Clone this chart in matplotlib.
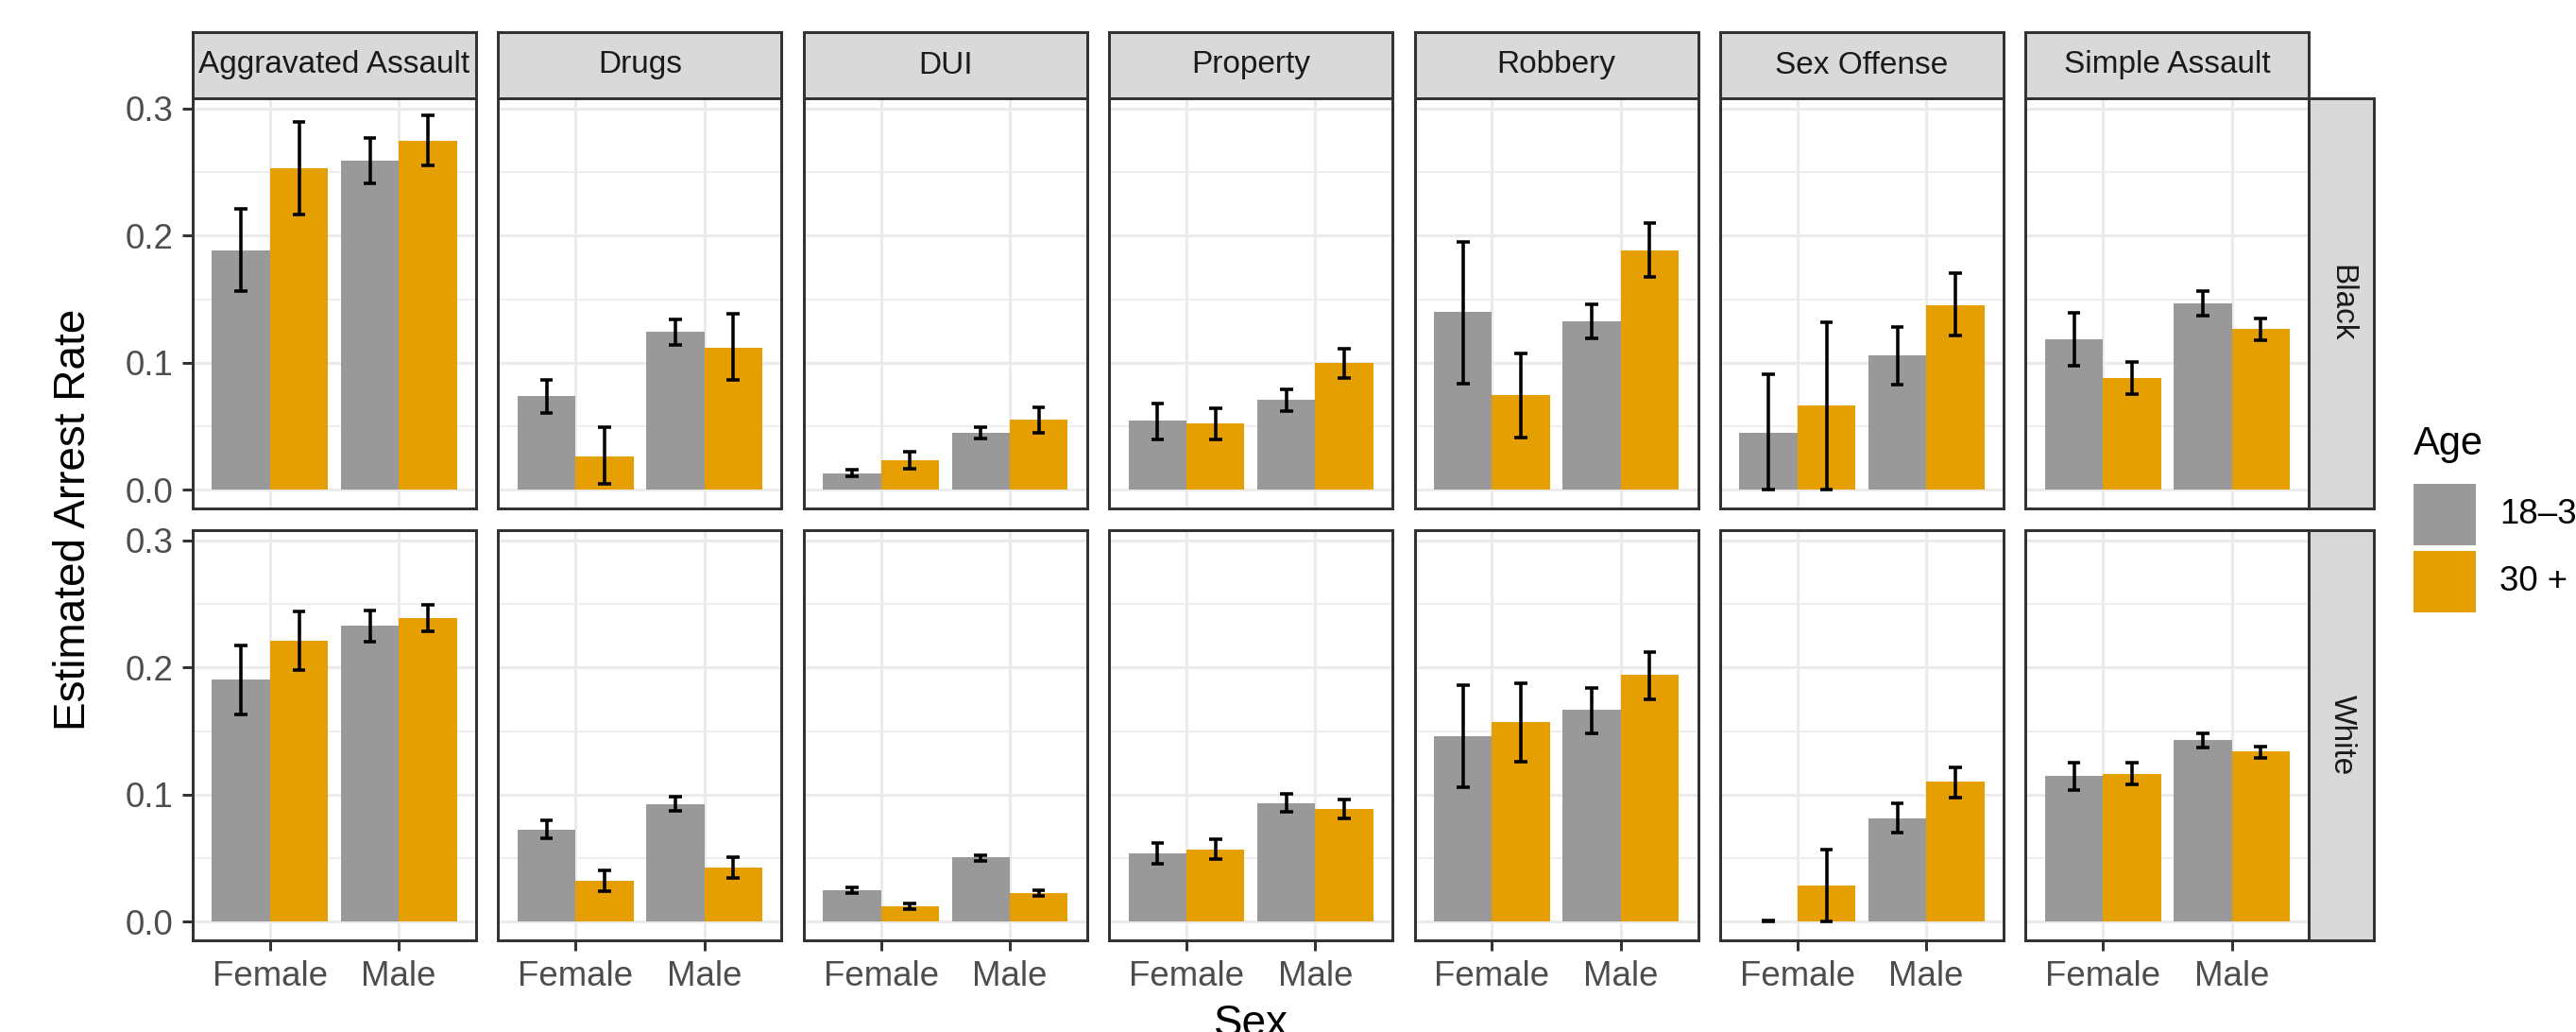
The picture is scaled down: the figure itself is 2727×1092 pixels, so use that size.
import matplotlib
matplotlib.use("Agg")
import matplotlib.pyplot as plt
from matplotlib.patches import Rectangle
from matplotlib.ticker import FixedLocator
import numpy as np

plt.rcParams['font.family'] = ['Liberation Sans', 'DejaVu Sans']

# ---------------- data ----------------
crimes = ["Aggravated Assault", "Drugs", "DUI", "Property", "Robbery",
          "Sex Offense", "Simple Assault"]
races = ["Black", "White"]
sexes = ["Female", "Male"]
ages = ["18–30", "30 +"]
y_ticks = [0.0, 0.1, 0.2, 0.3]
y_tick_labels = ["0.0", "0.1", "0.2", "0.3"]

# values ordered crime by crime, (Female, Male) within each crime
black_young_rate = [0.188, 0.259, 0.0736, 0.1241, 0.0133, 0.0452, 0.0545, 0.0707,
                    0.140, 0.1326, 0.0452, 0.106, 0.1185, 0.1467]
black_young_lo = [0.1565, 0.241, 0.0609, 0.114, 0.0104, 0.0404, 0.0399, 0.0622,
                  0.0834, 0.1193, 0.0, 0.0829, 0.0975, 0.1374]
black_young_hi = [0.2214, 0.2766, 0.0864, 0.1339, 0.016, 0.0497, 0.0683, 0.0795,
                  0.1953, 0.1459, 0.0911, 0.1281, 0.139, 0.1563]

black_30_rate = [0.253, 0.2748, 0.0266, 0.1121, 0.0231, 0.055, 0.0521, 0.0997,
                 0.0744, 0.1884, 0.0664, 0.1456, 0.088, 0.1265]
black_30_lo = [0.2166, 0.2554, 0.005, 0.0864, 0.0165, 0.0449, 0.0399, 0.0882,
               0.0412, 0.1672, 0.0, 0.1212, 0.0757, 0.1175]
black_30_hi = [0.2894, 0.2947, 0.0497, 0.1385, 0.0303, 0.0648, 0.0646, 0.1113,
               0.1076, 0.2097, 0.1321, 0.1703, 0.1007, 0.1347]

white_young_rate = [0.1905, 0.2326, 0.0728, 0.0927, 0.0252, 0.0506, 0.0542, 0.0935,
                    0.1457, 0.1666, 0.0003, 0.0817, 0.1145, 0.1428]
white_young_lo = [0.1632, 0.2201, 0.0655, 0.0875, 0.023, 0.0477, 0.0458, 0.0867,
                  0.1061, 0.1485, 0.0, 0.070, 0.104, 0.137]
white_young_hi = [0.2174, 0.245, 0.0799, 0.0982, 0.0272, 0.0524, 0.0624, 0.1006,
                  0.186, 0.1839, 0.0008, 0.093, 0.125, 0.1485]

white_30_rate = [0.2209, 0.2387, 0.0325, 0.043, 0.0126, 0.0228, 0.0571, 0.0891,
                 0.1569, 0.1941, 0.0288, 0.110, 0.1166, 0.1339]
white_30_lo = [0.1983, 0.2282, 0.0241, 0.0346, 0.0102, 0.0202, 0.0493, 0.0815,
               0.1263, 0.175, 0.0005, 0.0977, 0.1082, 0.1292]
white_30_hi = [0.2442, 0.2494, 0.0406, 0.0511, 0.0144, 0.0249, 0.065, 0.0964,
               0.1878, 0.2125, 0.0569, 0.1218, 0.125, 0.1381]

data = {
    ("Black", ages[0]): (black_young_rate, black_young_lo, black_young_hi),
    ("Black", ages[1]): (black_30_rate, black_30_lo, black_30_hi),
    ("White", ages[0]): (white_young_rate, white_young_lo, white_young_hi),
    ("White", ages[1]): (white_30_rate, white_30_lo, white_30_hi),
}

# ---------------- style ----------------
age_colors = {ages[0]: "#999999", ages[1]: "#E69F00"}
GRID = "#EBEBEB"
BORDER = "#333333"
STRIP_FILL = "#D9D9D9"
TICK_TXT = "#4D4D4D"
STRIP_TXT = "#1A1A1A"
LW = 0.72
ERR_LW = 0.85

W, H, DPI = 2727, 1092, 300
fig = plt.figure(figsize=(W / DPI, H / DPI), dpi=DPI)
fig.patch.set_facecolor("white")


def fx(px):
    return px / W


def fy(py):
    return 1 - py / H


panel_w = 300
col_left = [204 + c * 323.4 for c in range(7)]
panel_h = 434
row_top = [104, 561]
strip_top = 34
strip_right_w = 69

dodge = 0.225
bar_w = 0.45
cap = 0.05

for r, race in enumerate(races):
    for c, crime in enumerate(crimes):
        left = col_left[c]
        top = row_top[r]
        ax = fig.add_axes([fx(left), fy(top + panel_h), panel_w / W, panel_h / H])
        ax.set_xlim(0.4, 2.6)
        ax.set_ylim(-0.0145, 0.308)
        ax.set_facecolor("white")
        # grid
        ax.yaxis.set_major_locator(FixedLocator(y_ticks))
        ax.yaxis.set_minor_locator(FixedLocator([0.05, 0.15, 0.25]))
        ax.xaxis.set_major_locator(FixedLocator([1, 2]))
        ax.grid(which="major", color=GRID, linewidth=0.75, zorder=0)
        ax.grid(which="minor", axis="y", color=GRID, linewidth=0.4, zorder=0)
        ax.set_axisbelow(True)
        for s in ax.spines.values():
            s.set_color(BORDER)
            s.set_linewidth(LW)
            s.set_zorder(5)

        xpos = np.array([1.0, 2.0])
        for a_i, age in enumerate(ages):
            rate, lo, hi = data[(race, age)]
            vals = np.array(rate[2 * c:2 * c + 2])
            los = np.array(lo[2 * c:2 * c + 2])
            his = np.array(hi[2 * c:2 * c + 2])
            xs = xpos + (-dodge if a_i == 0 else dodge)
            ax.bar(xs, vals, width=bar_w, color=age_colors[age], zorder=2,
                   linewidth=0)
            ax.vlines(xs, los, his, color="black", linewidth=ERR_LW, zorder=3)
            ax.hlines(los, xs - cap, xs + cap, color="black", linewidth=ERR_LW, zorder=3)
            ax.hlines(his, xs - cap, xs + cap, color="black", linewidth=ERR_LW, zorder=3)

        ax.tick_params(which="minor", length=0)
        ax.tick_params(which="major", color=BORDER, width=LW, length=2.75,
                       pad=2.2, labelsize=8.8, labelcolor=TICK_TXT)
        if c == 0:
            ax.set_yticklabels(y_tick_labels)
        else:
            ax.tick_params(axis="y", which="major", length=0, labelleft=False)
        if r == len(races) - 1:
            ax.set_xticklabels(sexes)
        else:
            ax.tick_params(axis="x", which="major", length=0, labelbottom=False)

        # top strips
        if r == 0:
            fig.add_artist(Rectangle((fx(left), fy(top)), panel_w / W,
                                     (top - strip_top) / H,
                                     transform=fig.transFigure,
                                     facecolor=STRIP_FILL, edgecolor=BORDER,
                                     linewidth=LW, zorder=1))
            fig.text(fx(left + panel_w / 2), fy((top + strip_top) / 2), crime,
                     ha="center", va="center", fontsize=8.0, color=STRIP_TXT)

    # right strips
    right = col_left[-1] + panel_w
    top = row_top[r]
    fig.add_artist(Rectangle((fx(right), fy(top + panel_h)), strip_right_w / W,
                             panel_h / H, transform=fig.transFigure,
                             facecolor=STRIP_FILL, edgecolor=BORDER,
                             linewidth=LW, zorder=1))
    fig.text(fx(right + strip_right_w / 2), fy(top + panel_h / 2), race,
             ha="center", va="center", rotation=-90, fontsize=8.0, color=STRIP_TXT)

# axis titles
fig.text(fx(col_left[0] + (col_left[-1] + panel_w - col_left[0]) / 2), fy(1062),
         "Sex", ha="center", va="top", fontsize=11, color="black")
fig.text(fx(78), fy(row_top[0] + (row_top[1] + panel_h - row_top[0]) / 2),
         "Estimated Arrest Rate", ha="center", va="center", rotation=90,
         fontsize=11, color="black")

# legend
fig.text(fx(2555), fy(481), "Age", ha="left", va="baseline", fontsize=10, color="black")
key_tops = [512, 583]
for age, kt in zip(ages, key_tops):
    fig.add_artist(Rectangle((fx(2555), fy(kt + 65)), 66 / W, 65 / H,
                             transform=fig.transFigure, facecolor=age_colors[age],
                             edgecolor="none"))
    fig.text(fx(2646), fy(kt + 32.5), age, ha="left", va="center",
             fontsize=8.8, color="black")

fig.savefig("out.png", dpi=DPI, facecolor="white")
